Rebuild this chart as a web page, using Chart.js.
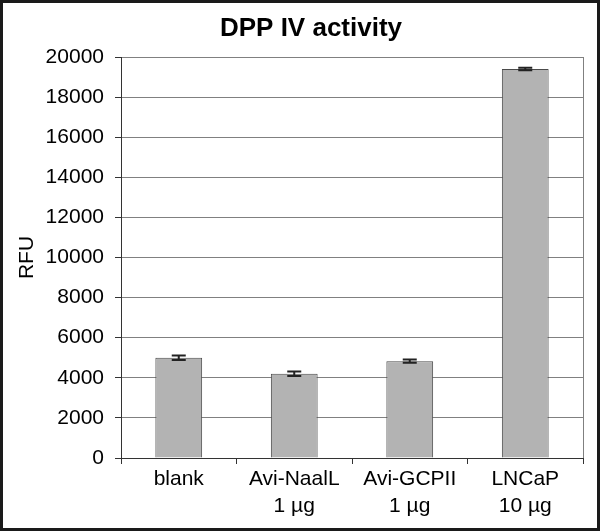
<!DOCTYPE html>
<html>
<head>
<meta charset="utf-8">
<script src="https://cdn.jsdelivr.net/npm/chart.js@4/dist/chart.umd.min.js"></script>
<style>
  html, body { margin: 0; padding: 0; background: #fff; }
  #wrap { width: 600px; height: 531px; position: relative; }
</style>
</head>
<body>
<div id="wrap"><canvas id="c"></canvas></div>
<script>
const chartTitle = 'DPP IV activity';
const axisTitle = 'RFU';
const categories = [['blank'], ['Avi-NaalL', '1 µg'], ['Avi-GCPII', '1 µg'], ['LNCaP', '10 µg']];
const values = [5000, 4200, 4830, 19400];
const errors = [110, 115, 85, 60];
const yTicks = [0, 2000, 4000, 6000, 8000, 10000, 12000, 14000, 16000, 18000, 20000];

const FONT = '"Liberation Sans", Arial, sans-serif';

const decor = {
  id: 'decor',
  afterDatasetsDraw(chart) {
    const ctx = chart.ctx;
    const ys = chart.scales.y;
    const meta = chart.getDatasetMeta(0);
    ctx.save();
    ctx.strokeStyle = '#222';
    ctx.lineWidth = 2;
    meta.data.forEach((bar, i) => {
      const x = bar.x;
      const t = ys.getPixelForValue(values[i] + errors[i]);
      const b = ys.getPixelForValue(values[i] - errors[i]);
      ctx.beginPath();
      ctx.moveTo(x, t); ctx.lineTo(x, b);
      ctx.moveTo(x - 7, t); ctx.lineTo(x + 7, t);
      ctx.moveTo(x - 7, b); ctx.lineTo(x + 7, b);
      ctx.stroke();
    });
    ctx.restore();
  },
  afterDraw(chart) {
    const ctx = chart.ctx;
    const a = chart.chartArea;
    ctx.save();
    ctx.strokeStyle = '#808080';
    ctx.lineWidth = 1;
    ctx.beginPath();
    ctx.moveTo(Math.round(a.right) + 0.5, a.top);
    ctx.lineTo(Math.round(a.right) + 0.5, a.bottom);
    ctx.stroke();
    ctx.fillStyle = '#000';
    ctx.font = 'bold 26px ' + FONT;
    ctx.textAlign = 'center';
    ctx.textBaseline = 'middle';
    ctx.fillText(chartTitle, 311, 29);
    ctx.strokeStyle = '#1a1a1a';
    ctx.lineWidth = 3;
    ctx.strokeRect(1.5, 1.5, 597, 528);
    ctx.restore();
  }
};

new Chart(document.getElementById('c'), {
  type: 'bar',
  data: {
    labels: categories,
    datasets: [{
      data: values,
      backgroundColor: '#b3b3b3',
      borderColor: '#4a4a4a',
      borderWidth: 1,
      categoryPercentage: 1,
      barPercentage: 0.405
    }]
  },
  options: {
    responsive: true,
    maintainAspectRatio: false,
    animation: false,
    layout: { padding: { left: 5, right: 17, top: 57, bottom: 0 } },
    plugins: { legend: { display: false }, tooltip: { enabled: false }, title: { display: false } },
    scales: {
      x: {
        offset: true,
        grid: { offset: true, drawOnChartArea: false, drawTicks: true, tickLength: 6, tickColor: '#333' },
        border: { color: '#333', width: 1 },
        ticks: { color: '#000', padding: 1, maxRotation: 0, autoSkip: false,
                 font: { family: FONT, size: 21, lineHeight: 1.31 } },
        afterFit(s) { s.height = 73; }
      },
      y: {
        min: 0, max: 20000,
        afterBuildTicks(s) { s.ticks = yTicks.map(v => ({ value: v })); },
        grid: { color: '#808080', lineWidth: 1, drawTicks: true, tickLength: 6, tickColor: '#333' },
        border: { color: '#333', width: 1 },
        ticks: { color: '#000', padding: 11, font: { family: FONT, size: 21 },
                 callback: v => String(v) },
        title: { display: true, text: axisTitle, color: '#000', padding: { top: 10, bottom: 0 },
                 font: { family: FONT, size: 21 } },
        afterFit(s) { s.width = 116; }
      }
    }
  },
  plugins: [decor]
});
</script>
</body>
</html>
